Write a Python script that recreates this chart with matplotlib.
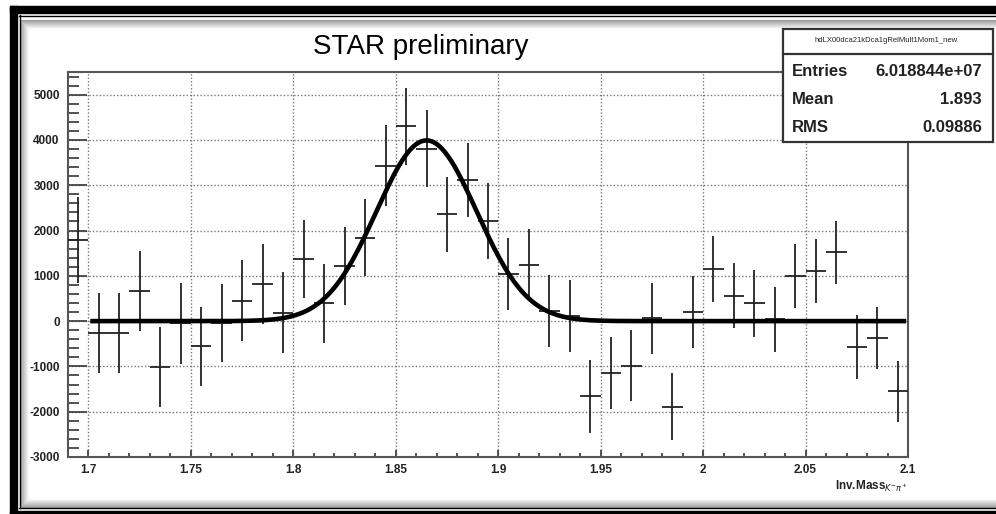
import matplotlib.pyplot as plt
import numpy as np
from matplotlib.patches import Rectangle
from matplotlib.lines import Line2D
from matplotlib.ticker import MultipleLocator

plt.rcParams['font.family'] = ['Liberation Sans', 'DejaVu Sans']

# histogram bins (centres), contents and errors
bin_centers = [1.695, 1.705, 1.715, 1.725, 1.735, 1.745, 1.755, 1.765, 1.775, 1.785,
               1.795, 1.805, 1.815, 1.825, 1.835, 1.845, 1.855, 1.865, 1.875, 1.885,
               1.895, 1.905, 1.915, 1.925, 1.935, 1.945, 1.955, 1.965, 1.975, 1.985,
               1.995, 2.005, 2.015, 2.025, 2.035, 2.045, 2.055, 2.065, 2.075, 2.085,
               2.095]
counts = [1800, -270, -270, 670, -1010, -50, -560, -40, 450, 820,
          190, 1380, 390, 1220, 1840, 3430, 4300, 3810, 2360, 3110,
          2210, 1040, 1240, 220, 110, -1660, -1150, -980, 60, -1890,
          200, 1150, 560, 390, 40, 1000, 1100, 1520, -570, -370,
          -1550]
count_errors = [950, 880, 880, 880, 890, 900, 870, 860, 890, 880,
                890, 860, 870, 860, 850, 890, 850, 840, 830, 820,
                830, 800, 800, 790, 800, 800, 790, 790, 780, 740,
                790, 720, 720, 740, 720, 710, 710, 690, 700, 680,
                670]
bin_width = 0.01

# gaussian fit parameters
fit_amp = 3990
fit_mean = 1.865
fit_sigma = 0.0245
fit_range = (1.702, 2.098)

x_ticks = [1.7, 1.75, 1.8, 1.85, 1.9, 1.95, 2.0, 2.05, 2.1]
x_ticklabels = ['1.7', '1.75', '1.8', '1.85', '1.9', '1.95', '2', '2.05', '2.1']
y_ticks = [-3000, -2000, -1000, 0, 1000, 2000, 3000, 4000, 5000]

stats_name = 'hdLX00dca21kDca1gRelMult1Mom1_new'
stats_rows = [('Entries', '6.018844e+07'), ('Mean', '1.893'), ('RMS', '0.09886')]

W, H = 996, 514
fig = plt.figure(figsize=(W / 100, H / 100), dpi=100)
fx = lambda x: x / W
fy = lambda y: 1 - y / H

# frame decoration (black double border + soft shadow)
for i in range(9):
    g = 0.62 + 0.045 * i
    fig.add_artist(Rectangle((fx(20 + i), fy(507 - i)), fx(1100), (487 - 2 * i) / H,
                             transform=fig.transFigure, fill=False,
                             edgecolor=(g, g, g), lw=0.8))
fig.add_artist(Rectangle((fx(10), fy(514)), fx(7), 508 / H, transform=fig.transFigure, color='black'))
fig.add_artist(Rectangle((fx(10), fy(13)), fx(986), 7 / H, transform=fig.transFigure, color='black'))
fig.add_artist(Rectangle((fx(10), fy(514)), fx(986), 3 / H, transform=fig.transFigure, color='black'))
fig.add_artist(Line2D([fx(19.5), fx(19.5)], [fy(15), fy(508)], transform=fig.transFigure, color='black', lw=1))
fig.add_artist(Line2D([fx(19), fx(996)], [fy(15.5), fy(15.5)], transform=fig.transFigure, color='black', lw=1))
fig.add_artist(Line2D([fx(19), fx(996)], [fy(507.5), fy(507.5)], transform=fig.transFigure, color='black', lw=1))

ax = fig.add_axes([fx(68), fy(457), (908 - 68) / W, (457 - 72) / H])

ax.errorbar(bin_centers, counts, xerr=bin_width / 2, yerr=count_errors, fmt='none',
            ecolor='#222222', elinewidth=1.3, capsize=0, zorder=3)

xf = np.linspace(fit_range[0], fit_range[1], 300)
yf = fit_amp * np.exp(-0.5 * ((xf - fit_mean) / fit_sigma) ** 2)
ax.plot(xf, yf, color='black', lw=3.3, zorder=4)

ax.set_xlim(1.69, 2.1)
ax.set_ylim(-3000, 5500)
ax.set_xticks(x_ticks)
ax.set_xticklabels(x_ticklabels)
ax.set_yticks(y_ticks)
ax.set_yticklabels([str(v) for v in y_ticks])
ax.xaxis.set_minor_locator(MultipleLocator(0.01))
ax.yaxis.set_minor_locator(MultipleLocator(200))
ax.tick_params(axis='both', which='both', direction='in', color='#444444', width=1.3,
               labelsize=8.5, labelcolor='#222222')
ax.tick_params(axis='y', which='major', length=14, pad=6)
ax.tick_params(axis='y', which='minor', length=8)
ax.tick_params(axis='x', which='major', length=5, pad=5)
ax.tick_params(axis='x', which='minor', length=3)
for lab in ax.get_xticklabels() + ax.get_yticklabels():
    lab.set_fontweight('bold')
ax.grid(True, which='major', linestyle=(0, (1, 1.5)), color='#777777', lw=1)
for s in ax.spines.values():
    s.set_color('#555555')
    s.set_linewidth(1.5)

fig.text(fx(907), fy(486), r'Inv.Mass$_{K^{-}\pi^{+}}$', ha='right', va='center',
         fontsize=8.5, fontweight='bold', color='#222222')

fig.text(fx(421), fy(47), 'STAR preliminary', ha='center', va='center', fontsize=20)

# stats box
fig.add_artist(Rectangle((fx(783), fy(142)), (993 - 783) / W, (142 - 29) / H,
                         transform=fig.transFigure, facecolor='white',
                         edgecolor='#333333', lw=1.6, zorder=10))
fig.add_artist(Line2D([fx(783), fx(993)], [fy(54), fy(54)], transform=fig.transFigure,
                      color='#333333', lw=1.6, zorder=11))
fig.text(fx(886), fy(41), stats_name, ha='center', va='center', fontsize=5.5,
         color='#222222', zorder=12)
for i, (lab, val) in enumerate(stats_rows):
    y = 71 + 28.5 * i
    fig.text(fx(792), fy(y), lab, ha='left', va='center', fontsize=12,
             fontweight='bold', color='#222222', zorder=12)
    fig.text(fx(982), fy(y), val, ha='right', va='center', fontsize=12,
             fontweight='bold', color='#222222', zorder=12)

fig.savefig('out.png', dpi=100)
